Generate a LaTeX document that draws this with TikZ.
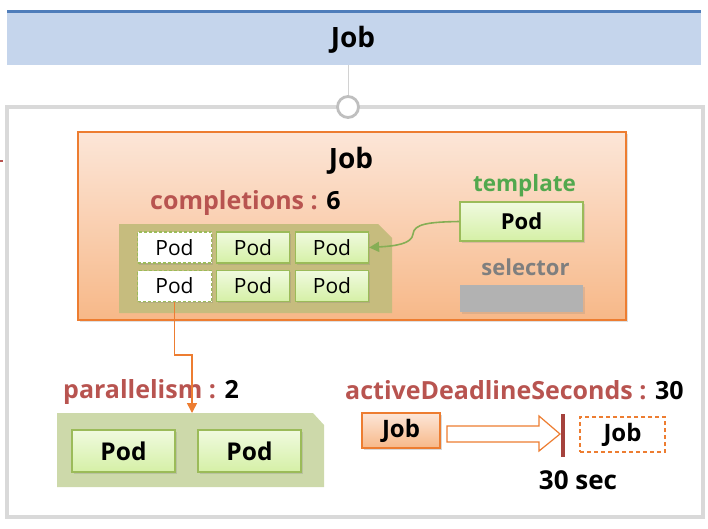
\documentclass[tikz,border=0pt]{standalone}
\usepackage{fontspec}
\setmainfont{Open Sans}
\usetikzlibrary{shadows,calc,arrows.meta}
\definecolor{barblue}{HTML}{C5D5EC}
\definecolor{barline}{HTML}{4F7DBA}
\definecolor{framegray}{HTML}{D9D9D9}
\definecolor{circgray}{HTML}{BFBFBF}
\definecolor{orangeline}{HTML}{ED7D31}
\definecolor{orangetop}{HTML}{FCE6D8}
\definecolor{orangebot}{HTML}{F7B888}
\definecolor{olivebg}{HTML}{C6BC7E}
\definecolor{podline}{HTML}{9BBB59}
\definecolor{podtop}{HTML}{F0FADF}
\definecolor{podbot}{HTML}{D5F0A6}
\definecolor{redtxt}{HTML}{B85450}
\definecolor{greentxt}{HTML}{52A84E}
\definecolor{greyTxt}{HTML}{7F7F7F}
\definecolor{selbox}{HTML}{B2B2B2}
\definecolor{parbg}{HTML}{CDD9AA}
\definecolor{deadbar}{HTML}{A5423D}
\definecolor{arrowgreen}{HTML}{86AE55}
\newcommand{\fs}[1]{\fontsize{#1}{#1}\selectfont}
\tikzset{
  podbox/.style={draw=podline, line width=1.2pt, top color=podtop, bottom color=podbot,
    minimum width=#1, inner sep=0pt, drop shadow={opacity=0.25, shadow xshift=1.5pt, shadow yshift=-1.5pt}},
  podbox/.default=73pt,
  podwhite/.style={draw=podline, dash pattern=on 3pt off 2pt, line width=1.2pt, fill=white, minimum width=74pt,
    minimum height=31pt, inner sep=0pt, font=\fs{21},
    drop shadow={opacity=0.25, shadow xshift=1.5pt, shadow yshift=-1.5pt}},
  jobsmall/.style={draw=orangeline, line width=1.2pt, top color=orangetop, bottom color=orangebot,
    minimum width=78pt, minimum height=35pt, inner sep=0pt, font=\fs{24}\bfseries,
    drop shadow={opacity=0.3, shadow xshift=1.5pt, shadow yshift=-1.5pt}},
  lbl/.style={inner sep=0pt, font=\fs{#1}\bfseries},
}
\begin{document}
\begin{tikzpicture}[x=1pt,y=-1pt]
\useasboundingbox (0,0) rectangle (708,528);
% top bar
\node[fill=barblue, minimum width=694pt, minimum height=53pt, inner sep=0pt, anchor=north west] (top) at (7,12) {};
\draw[barline, line width=3pt] (7,11) -- (701,11);
\node[lbl=28] at (353,40) {Job};
% outer frame
\draw[framegray, line width=3.5pt] (7,107) rectangle (703,517);
\node[circle, draw=circgray, line width=2.8pt, fill=white, minimum size=21pt, inner sep=0pt] (circ) at (348,107) {};
\draw[circgray!70, line width=1pt] (top.south -| circ) -- (circ.north);
% small left mark
\draw[redtxt, line width=1.5pt] (0,161) -- (3,161);
% Job box
\node[draw=orangeline, line width=1.5pt, top color=orangetop, bottom color=orangebot,
  minimum width=548pt, minimum height=188pt, inner sep=0pt,
  drop shadow={opacity=0.25, shadow xshift=2pt, shadow yshift=-2pt}] (jobbox) at (352,226) {};
\node[lbl=28] (jobtitle) at (351,161) {Job};
\node[lbl=25, anchor=west] (compl) at (150,203) {\textcolor{redtxt}{completions :} 6};
% olive container
\fill[olivebg] (119,224) -- (378,224) -- (392,238) -- (392,313) -- (119,313) -- cycle;
% pods grid
\node[podwhite] (p11) at (174.5,247.5) {Pod};
\node[podbox, minimum height=31pt, font=\fs{21}] (p12) at (253,247.5) {Pod};
\node[podbox, minimum height=31pt, font=\fs{21}] (p13) at (332,247.5) {Pod};
\node[podwhite] (p21) at (174.5,286) {Pod};
\node[podbox, minimum height=31pt, font=\fs{21}] (p22) at (253,286) {Pod};
\node[podbox, minimum height=31pt, font=\fs{21}] (p23) at (332,286) {Pod};
% template
\node[lbl=22.5, text=greentxt] (tpltxt) at (524.5,186) {template};
\node[podbox=123pt, minimum height=39pt, font=\fs{22}\bfseries] (tpl) at (521.5,221.5) {Pod};
\node[lbl=22, text=greyTxt] (seltxt) at (525.5,267) {selector};
\node[fill=selbox, minimum width=123pt, minimum height=27pt, inner sep=0pt,
  drop shadow={opacity=0.2, shadow xshift=1.5pt, shadow yshift=-1.5pt}] (sel) at (521.5,298.5) {};
% green arrow
\draw[arrowgreen, line width=1.6pt, -{Triangle[length=10pt,width=10pt]}]
  (tpl.west) .. controls (428,222) and (414,224) .. (413,234)
  .. controls (412,244) and (395,246) .. (p13.east);
% parallelism
\node[lbl=25, anchor=west] (par) at (63,392) {\textcolor{redtxt}{parallelism :} 2};
\fill[parbg] (57,413) -- (313,413) -- (324,425) -- (324,487) -- (57,487) -- cycle;
\coordinate (partop) at (192,413);
\coordinate (bend) at (174.5,355);
\node[podbox=103pt, minimum height=42pt, font=\fs{24.5}\bfseries] (q1) at (123.5,451) {Pod};
\node[podbox=103pt, minimum height=42pt, font=\fs{24.5}\bfseries] (q2) at (249.5,451) {Pod};
\draw[orangeline, line width=1.5pt, -{Triangle[length=10pt,width=10pt]}]
  (p21.south) -- (bend) -| (partop);
% active deadline
\node[lbl=25, anchor=west] (ads) at (345,390) {\textcolor{redtxt}{activeDeadlineSeconds :} 30};
\node[jobsmall] (j1) at (401,430.5) {Job};
\fill[white, draw=orangeline, line width=1.2pt]
  (447,426) -- (539,426) -- (539,416) -- (560,434) -- (539,451) -- (539,442) -- (447,442) -- cycle;
\draw[deadbar, line width=4.5pt] (563,414) -- (563,457);
\node[draw=orangeline, dash pattern=on 4pt off 3pt, line width=1.2pt, fill=white, minimum width=85pt, minimum height=35pt,
  inner sep=0pt, font=\fs{24}\bfseries] (j2) at (622.5,434.5) {Job};
\node[lbl=26] (sec) at (578,480) {30 sec};
\end{tikzpicture}
\end{document}
